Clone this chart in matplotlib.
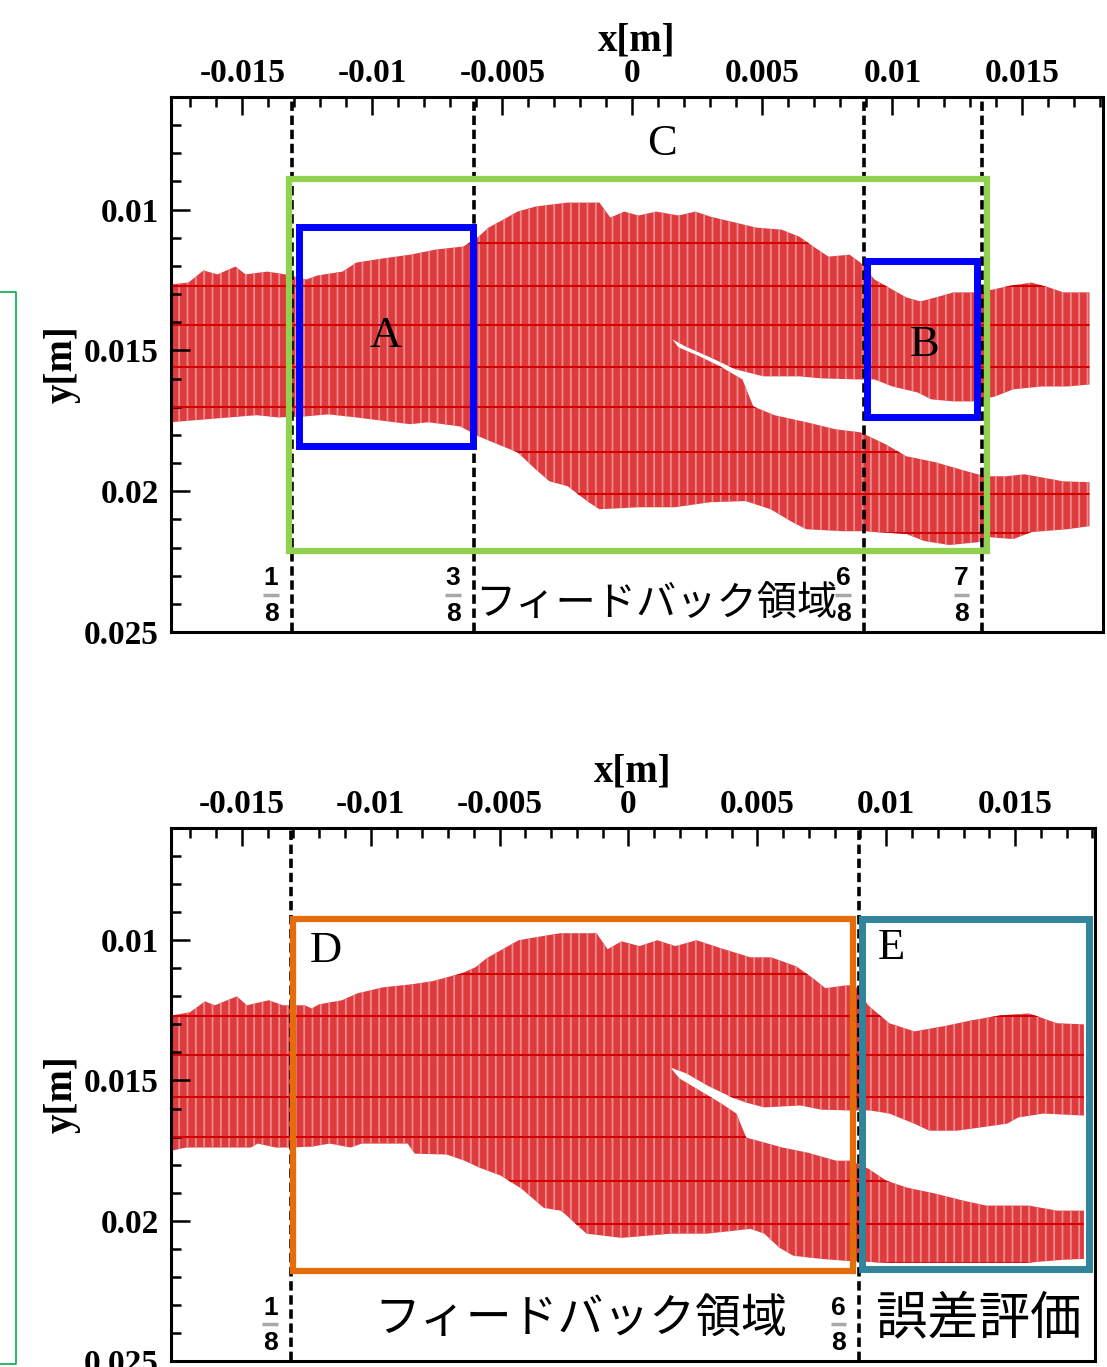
import matplotlib
matplotlib.use("Agg")
import matplotlib.pyplot as plt
from matplotlib.path import Path
from matplotlib.patches import PathPatch, Rectangle
from matplotlib.lines import Line2D
from matplotlib.ticker import MultipleLocator

# ---- values ----
x_ticks = [-0.015, -0.01, -0.005, 0, 0.005, 0.01, 0.015]
x_tick_labels = ["-0.015", "-0.01", "-0.005", "0", "0.005", "0.01", "0.015"]
y_ticks = [0.01, 0.015, 0.02, 0.025]
y_tick_labels = ["0.01", "0.015", "0.02", "0.025"]

# horizontal mesh rows seen inside the red region
mesh_rows = [0.0112, 0.0127, 0.0141, 0.0156, 0.0170, 0.0186, 0.0201, 0.0215]

# top panel: outline of the red region
top_upper_x = [-0.01777, -0.01708, -0.01650, -0.01596, -0.01527, -0.01488, -0.01404, -0.01335, -0.01254,
               -0.01212, -0.01115, -0.01062, -0.00965, -0.00854, -0.00758, -0.00650, -0.00592, -0.00554,
               -0.00496, -0.00442, -0.00373, -0.00250, -0.00127, -0.00085, -0.00031, 0.00023, 0.00092,
               0.00177, 0.00242, 0.00300, 0.00396, 0.00477, 0.00573, 0.00642, 0.00696, 0.00754, 0.00835,
               0.00877, 0.00931, 0.01000, 0.01054, 0.01108, 0.01165, 0.01235, 0.01315, 0.01385, 0.01454,
               0.01535, 0.01604, 0.01658, 0.01758]
top_upper_y = [0.01266, 0.01259, 0.01216, 0.01230, 0.01202, 0.01230, 0.01220, 0.01230, 0.01248,
               0.01234, 0.01220, 0.01188, 0.01174, 0.01160, 0.01142, 0.01131, 0.01096, 0.01064,
               0.01035, 0.01007, 0.00989, 0.00975, 0.00975, 0.01028, 0.01007, 0.01021, 0.01007,
               0.01021, 0.01007, 0.01025, 0.01046, 0.01064, 0.01071, 0.01096, 0.01131, 0.01167, 0.01160,
               0.01188, 0.01248, 0.01284, 0.01312, 0.01326, 0.01312, 0.01294, 0.01294, 0.01284, 0.01270,
               0.01259, 0.01277, 0.01294, 0.01294]
top_lower_x = [-0.01777, -0.01446, -0.01362, -0.01254, -0.01169, -0.01062, -0.00854, -0.00785, -0.00662,
               -0.00592, -0.00538, -0.00442, -0.00373, -0.00319, -0.00250, -0.00169, -0.00127, 0.00023,
               0.00162, 0.00300, 0.00435, 0.00531, 0.00615, 0.00669, 0.00808, 0.00888, 0.01054, 0.01123,
               0.01219, 0.01331, 0.01369, 0.01465, 0.01535, 0.01673, 0.01758]
top_lower_y = [0.01755, 0.01730, 0.01738, 0.01734, 0.01727, 0.01738, 0.01762, 0.01755, 0.01770,
               0.01805, 0.01826, 0.01862, 0.01922, 0.01965, 0.01982, 0.02039, 0.02064, 0.02057,
               0.02057, 0.02039, 0.02035, 0.02064, 0.02110, 0.02135, 0.02142, 0.02142, 0.02152, 0.02177,
               0.02191, 0.02181, 0.02163, 0.02170, 0.02145, 0.02135, 0.02124]
# white slit between the two branches
top_slit_upper_x = [0.00154, 0.00204, 0.00300, 0.00396, 0.00504, 0.00642, 0.00723, 0.00862, 0.00931, 0.01000,
                    0.01096, 0.01150, 0.01235, 0.01315, 0.01396, 0.01465, 0.01577, 0.01673, 0.01758]
top_slit_upper_y = [0.01461, 0.01486, 0.01525, 0.01567, 0.01592, 0.01592, 0.01599, 0.01603, 0.01603, 0.01628,
                    0.01649, 0.01674, 0.01681, 0.01681, 0.01663, 0.01638, 0.01628, 0.01628, 0.01621]
top_slit_lower_x = [0.00154, 0.00177, 0.00258, 0.00338, 0.00423, 0.00465, 0.00546, 0.00669, 0.00781, 0.00877,
                    0.00973, 0.01054, 0.01165, 0.01300, 0.01358, 0.01438, 0.01508, 0.01658, 0.01758]
top_slit_lower_y = [0.01461, 0.01489, 0.01521, 0.01557, 0.01603, 0.01699, 0.01730, 0.01755, 0.01780, 0.01791,
                    0.01833, 0.01876, 0.01897, 0.01933, 0.01947, 0.01947, 0.01940, 0.01965, 0.01968]

# bottom panel: outline of the red region
bot_upper_x = [-0.01771, -0.01702, -0.01643, -0.01605, -0.01519, -0.01481, -0.01395, -0.01341, -0.01256,
               -0.01229, -0.01202, -0.01112, -0.01050, -0.00953, -0.00841, -0.00760, -0.00647, -0.00593,
               -0.00550, -0.00496, -0.00426, -0.00357, -0.00264, -0.00124, -0.00081, -0.00027, 0.00043,
               0.00112, 0.00182, 0.00264, 0.00360, 0.00473, 0.00554, 0.00651, 0.00721, 0.00764, 0.00845,
               0.00880, 0.00930, 0.01012, 0.01109, 0.01221, 0.01329, 0.01442, 0.01554, 0.01663, 0.01767]
bot_upper_y = [0.01268, 0.01257, 0.01218, 0.01232, 0.01200, 0.01232, 0.01214, 0.01232, 0.01232,
               0.01243, 0.01229, 0.01214, 0.01189, 0.01168, 0.01157, 0.01146, 0.01118, 0.01096,
               0.01064, 0.01036, 0.01000, 0.00989, 0.00975, 0.00975, 0.01032, 0.01004, 0.01021,
               0.01000, 0.01021, 0.01000, 0.01029, 0.01061, 0.01061, 0.01093, 0.01139, 0.01171, 0.01161,
               0.01161, 0.01232, 0.01296, 0.01325, 0.01307, 0.01286, 0.01268, 0.01261, 0.01296, 0.01300]
bot_lower_x = [-0.01771, -0.01717, -0.01465, -0.01438, -0.01368, -0.01326, -0.01229, -0.01159, -0.01078,
               -0.01035, -0.00857, -0.00829, -0.00705, -0.00636, -0.00578, -0.00496, -0.00415, -0.00329,
               -0.00264, -0.00248, -0.00163, -0.00027, 0.00167, 0.00306, 0.00473, 0.00527, 0.00585,
               0.00640, 0.00748, 0.00845, 0.01012, 0.01539, 0.01690, 0.01767]
bot_lower_y = [0.01750, 0.01739, 0.01739, 0.01725, 0.01739, 0.01739, 0.01736, 0.01725, 0.01739,
               0.01725, 0.01725, 0.01761, 0.01764, 0.01786, 0.01811, 0.01839, 0.01886, 0.01954,
               0.01964, 0.01975, 0.02046, 0.02061, 0.02046, 0.02046, 0.02029, 0.02046, 0.02096,
               0.02125, 0.02136, 0.02143, 0.02150, 0.02150, 0.02139, 0.02136]
bot_slit_upper_x = [0.00163, 0.00225, 0.00306, 0.00403, 0.00457, 0.00527, 0.00667, 0.00748, 0.00860, 0.00938,
                    0.01012, 0.01109, 0.01167, 0.01275, 0.01360, 0.01469, 0.01512, 0.01609, 0.01767]
bot_slit_upper_y = [0.01454, 0.01475, 0.01518, 0.01561, 0.01579, 0.01596, 0.01589, 0.01604, 0.01607, 0.01607,
                    0.01618, 0.01654, 0.01679, 0.01679, 0.01668, 0.01654, 0.01632, 0.01618, 0.01625]
bot_slit_lower_x = [0.00163, 0.00198, 0.00295, 0.00360, 0.00419, 0.00457, 0.00527, 0.00597, 0.00694, 0.00806,
                    0.00860, 0.00930, 0.01000, 0.01081, 0.01194, 0.01302, 0.01388, 0.01554, 0.01663, 0.01767]
bot_slit_lower_y = [0.01454, 0.01493, 0.01546, 0.01582, 0.01618, 0.01704, 0.01721, 0.01739, 0.01757, 0.01786,
                    0.01786, 0.01814, 0.01857, 0.01882, 0.01904, 0.01929, 0.01946, 0.01946, 0.01964, 0.01964]

# dashed section lines (x) and their fraction labels
top_cuts = [-0.0131, -0.0061, 0.0089, 0.01346]
top_cut_labels = [("1", "8"), ("3", "8"), ("6", "8"), ("7", "8")]
bot_cuts = [-0.0131, 0.00895]
bot_cut_labels = [("1", "8"), ("6", "8")]

# boxes: (x0, x1, y0, y1)
box_C = (-0.01323, 0.01362, 0.0089, 0.02213)
box_A = (-0.01281, -0.00615, 0.01060, 0.01840)
box_B = (0.00904, 0.01327, 0.01184, 0.01738)
box_D = (-0.01302, 0.00872, 0.00925, 0.02179)
box_E = (0.00907, 0.01787, 0.00925, 0.02171)

RED = "#DE3B3F"
STRIPE = "#EC8A8C"
ROW = "#D20000"

plt.rcParams["hatch.linewidth"] = 1.3


def flow_patch(up_x, up_y, lo_x, lo_y, su_x, su_y, sl_x, sl_y):
    # outer outline one way round, slit the other way so it is left as a hole
    outer = list(zip(up_x, up_y)) + list(zip(lo_x[::-1], lo_y[::-1]))
    hole = list(zip(sl_x, sl_y)) + list(zip(su_x[::-1], su_y[::-1]))
    verts = outer + [outer[0]] + hole + [hole[0]]
    codes = ([Path.MOVETO] + [Path.LINETO] * (len(outer) - 1) + [Path.CLOSEPOLY] +
             [Path.MOVETO] + [Path.LINETO] * (len(hole) - 1) + [Path.CLOSEPOLY])
    return PathPatch(Path(verts, codes), facecolor=RED, edgecolor=STRIPE, lw=0, hatch="||", zorder=1)


def setup_axes(ax):
    ax.set_xlim(-0.01775, 0.0181)
    ax.set_ylim(0.025, 0.006)
    ax.xaxis.tick_top()
    ax.xaxis.set_label_position("top")
    ax.set_xticks(x_ticks, x_tick_labels, fontsize=24, fontweight="bold", family="Liberation Serif")
    ax.set_yticks(y_ticks, y_tick_labels, fontsize=24, fontweight="bold", family="Liberation Serif")
    ax.xaxis.set_minor_locator(MultipleLocator(0.001))
    ax.yaxis.set_minor_locator(MultipleLocator(0.001))
    ax.tick_params(which="both", direction="in", top=True, bottom=False, left=True, right=False,
                   labeltop=True, labelbottom=False, width=1.8, color="black")
    ax.tick_params(axis="x", which="major", length=13, pad=6)
    ax.tick_params(axis="y", which="major", length=14, pad=9)
    ax.tick_params(which="minor", length=7)
    ax.set_xlabel("x[m]", fontsize=28, fontweight="bold", family="Liberation Serif", labelpad=5)
    ax.set_ylabel("y[m]", fontsize=28, fontweight="bold", family="Liberation Serif", labelpad=2)
    for s in ax.spines.values():
        s.set_linewidth(2.2)


def draw_box(ax, box, color, lw):
    x0, x1, y0, y1 = box
    ax.add_patch(Rectangle((x0, y0), x1 - x0, y1 - y0, fill=False, edgecolor=color, lw=lw, zorder=4))


def draw_cuts(ax, cuts, labels):
    for x, (num, den) in zip(cuts, labels):
        ax.axvline(x, color="black", lw=2.6, ls=(0, (2.6, 1.3)), zorder=3)
        lx = x - 0.0008
        ax.text(lx, 0.0231, num, ha="center", va="center", fontsize=19, fontweight="bold",
                family="Liberation Sans", zorder=5)
        ax.text(lx, 0.02437, den, ha="center", va="center", fontsize=19, fontweight="bold",
                family="Liberation Sans", zorder=5)
        ax.hlines(0.02368, lx - 0.0003, lx + 0.0003, color="#A8A8A8", lw=2.5, zorder=5)


def draw_letter(ax, x, y, s):
    ax.text(x, y, s, ha="center", va="center", fontsize=32, family="Liberation Serif", zorder=6)


def draw_flow(ax, patch):
    ax.add_patch(patch)
    rows = ax.hlines(mesh_rows, -0.02, 0.02, colors=ROW, lw=1.5, zorder=2)
    rows.set_clip_path(patch)


fig = plt.figure(figsize=(11.07, 13.67), dpi=100)
W, H = 1107, 1367
ax1 = fig.add_axes([171 / W, 1 - 632 / H, 932 / W, 535 / H])
ax2 = fig.add_axes([171 / W, 1 - 1361 / H, 924 / W, 533 / H])

# ---- top panel ----
setup_axes(ax1)
draw_flow(ax1, flow_patch(top_upper_x, top_upper_y, top_lower_x, top_lower_y,
                          top_slit_upper_x, top_slit_upper_y, top_slit_lower_x, top_slit_lower_y))
draw_cuts(ax1, top_cuts, top_cut_labels)
draw_box(ax1, box_C, "#92D050", 4.5)
draw_box(ax1, box_A, "#0000FF", 5)
draw_box(ax1, box_B, "#0000FF", 5)
draw_letter(ax1, -0.0095, 0.0145, "A")
draw_letter(ax1, 0.01123, 0.01479, "B")
draw_letter(ax1, 0.00115, 0.00766, "C")
ax1.text(-0.00605, 0.0240, "フィードバック領域", ha="left", va="center", fontsize=29,
         family=["Noto Sans CJK JP", "DejaVu Sans"], zorder=6)

# ---- bottom panel ----
setup_axes(ax2)
draw_flow(ax2, flow_patch(bot_upper_x, bot_upper_y, bot_lower_x, bot_lower_y,
                          bot_slit_upper_x, bot_slit_upper_y, bot_slit_lower_x, bot_slit_lower_y))
draw_cuts(ax2, bot_cuts, bot_cut_labels)
draw_box(ax2, box_D, "#E46C0A", 4.5)
draw_box(ax2, box_E, "#31849B", 5)
draw_letter(ax2, -0.01174, 0.01039, "D")
draw_letter(ax2, 0.01019, 0.01029, "E")
ax2.text(-0.00985, 0.0235, "フィードバック領域", ha="left", va="center", fontsize=33,
         family=["Noto Sans CJK JP", "DejaVu Sans"], zorder=6)
ax2.text(0.00962, 0.0235, "誤差評価", ha="left", va="center", fontsize=37,
         family=["Noto Sans CJK JP", "DejaVu Sans"], zorder=6)

# thin green frame edge at the far left of the page
fig.add_artist(Line2D([0, 16 / W, 16 / W, 0], [1 - 292 / H, 1 - 292 / H, 1 - 1364 / H, 1 - 1364 / H],
                      color="#00B050", lw=1.2, transform=fig.transFigure))

fig.savefig("out.png", dpi=100)
